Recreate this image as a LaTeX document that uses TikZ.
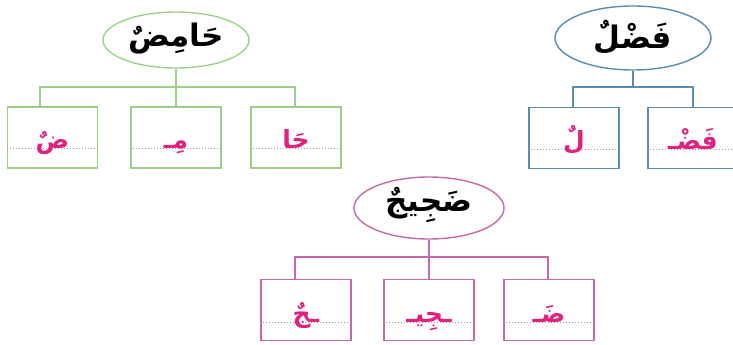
\documentclass[tikz,border=0pt]{standalone}
\usepackage{fontspec}
\usetikzlibrary{shapes.geometric}
\newfontfamily\arabicfont[Script=Arabic]{DejaVu Sans}
\definecolor{gline}{HTML}{9CCF8C}
\definecolor{bline}{HTML}{5A8CAE}
\definecolor{mline}{HTML}{C46AA8}
\definecolor{pinktxt}{HTML}{E2207E}
\tikzset{
  ell/.style={ellipse, draw, line width=1.4pt, minimum width=#1, inner sep=0pt},
  bx/.style={draw, line width=1.3pt, minimum width=90pt, minimum height=61pt, inner sep=0pt},
  dotl/.style={dotted, line width=1pt, gray!80},
  conn/.style={line width=1.3pt},
  big/.style={font=\arabicfont\bfseries\fontsize{31}{36}\selectfont, text=black},
  small/.style={font=\arabicfont\bfseries\fontsize{25}{29}\selectfont, text=pinktxt, anchor=base},
}
\begin{document}
\begin{tikzpicture}[x=1pt,y=-1pt]
\clip (0,0) rectangle (733,345);
\useasboundingbox (0,0) rectangle (733,345);
% ---------------- green group
\node[ell=146pt, minimum height=56pt, draw=gline] (g) at (176,40) {};
\node[big] (gt) at (176,39) {حَامِضٌ};
\node[bx, draw=gline] (g1) at (52.5,137.5) {};
\node[bx, draw=gline] (g2) at (176,137.5) {};
\node[bx, draw=gline] (g3) at (296,137.5) {};
\coordinate (gl) at (40,87);
\coordinate (gm) at (176,87);
\coordinate (gr) at (295,87);
\draw[conn, gline] (g.south) -- (g2.north);
\draw[conn, gline] (g1.north -| gl) -- (gl) -- (gr) -- (g3.north -| gr);
\foreach \b in {g1,g2,g3}{\draw[dotl] ([yshift=20pt]\b.south west) -- ([yshift=20pt]\b.south east);}
\node[small] (g1t) at ([yshift=20pt]g1.south) {ضٌ};
\node[small] (g2t) at ([yshift=20pt]g2.south) {مِـ};
\node[small] (g3t) at ([yshift=20pt]g3.south) {حَا};
% ---------------- blue group
\node[ell=156pt, minimum height=64pt, draw=bline] (f) at (633,38) {};
\node[big] (ft) at (633,37) {فَضْلٌ};
\node[bx, draw=bline] (f1) at (574,138) {};
\node[bx, draw=bline] (f2) at (693,138) {};
\coordinate (fl) at (573,87);
\coordinate (fr) at (693,87);
\draw[conn, bline] (f.south) -- (f.south |- fl);
\draw[conn, bline] (f1.north -| fl) -- (fl) -- (fr) -- (f2.north -| fr);
\foreach \b in {f1,f2}{\draw[dotl] ([yshift=20pt]\b.south west) -- ([yshift=20pt]\b.south east);}
\node[small] (f1t) at ([yshift=20pt]f1.south) {لٌ};
\node[small] (f2t) at ([yshift=20pt]f2.south) {فَضْـ};
% ---------------- magenta group
\node[ell=150pt, minimum height=62pt, draw=mline] (d) at (429,208) {};
\node[big] (dt) at (429,205) {ضَجِيجٌ};
\node[bx, draw=mline] (d1) at (306,310) {};
\node[bx, draw=mline] (d2) at (429,310) {};
\node[bx, draw=mline] (d3) at (549,310) {};
\coordinate (dl) at (295,257);
\coordinate (dr) at (548,257);
\draw[conn, mline] (d.south) -- (d2.north);
\draw[conn, mline] (d1.north -| dl) -- (dl) -- (dr) -- (d3.north -| dr);
\foreach \b in {d1,d2,d3}{\draw[dotl] ([yshift=19pt]\b.south west) -- ([yshift=19pt]\b.south east);}
\node[small] (d1t) at ([yshift=19pt]d1.south) {ـجٌ};
\node[small] (d2t) at ([yshift=19pt]d2.south) {ـجِيـ};
\node[small] (d3t) at ([yshift=19pt]d3.south) {ضَـ};
\end{tikzpicture}
\end{document}
